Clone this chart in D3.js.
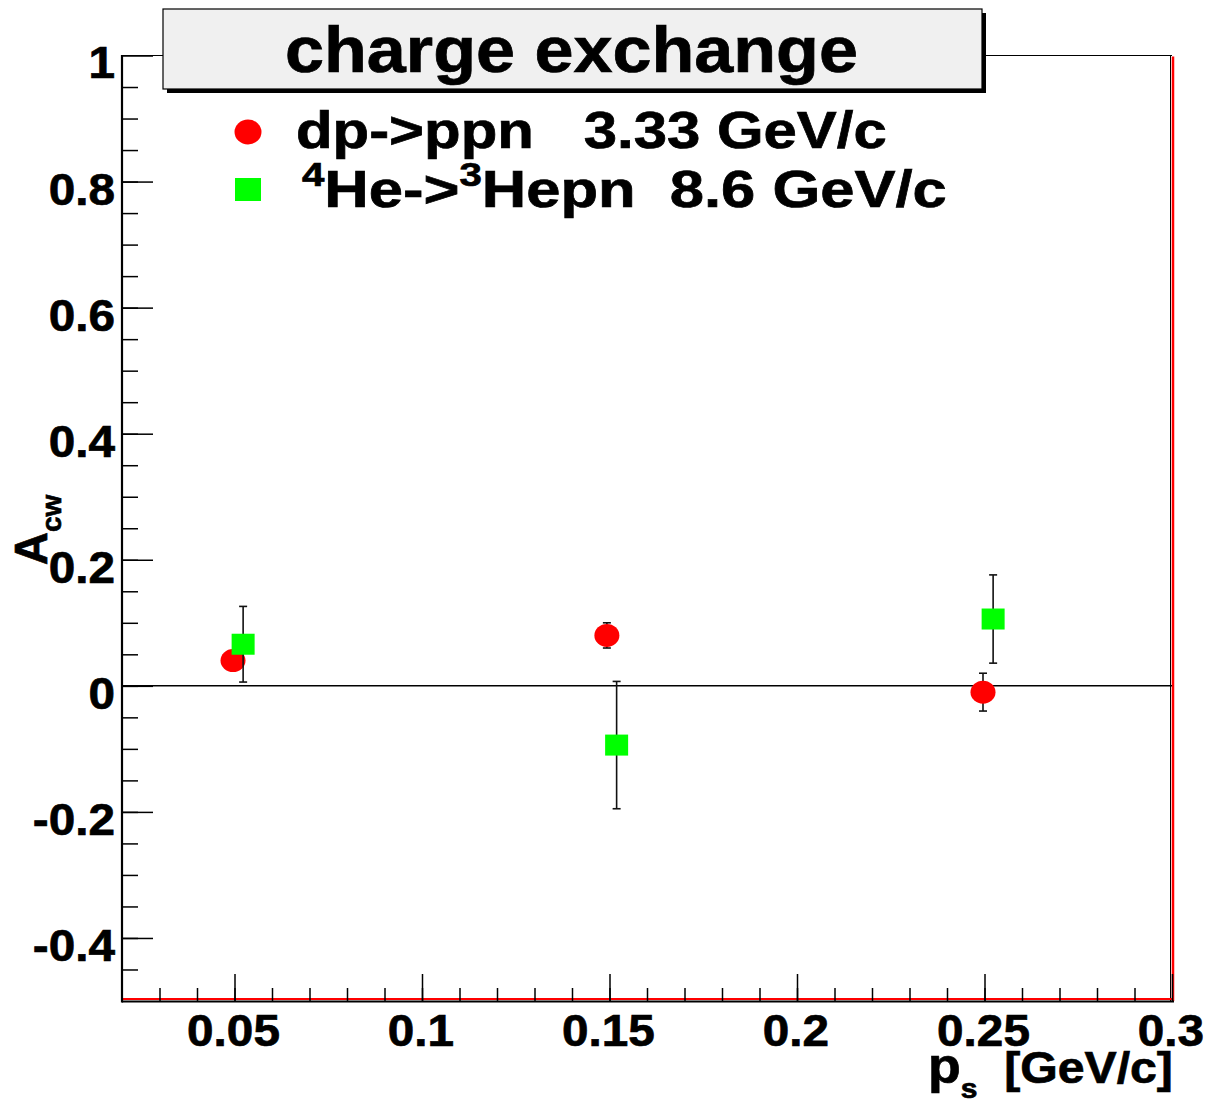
<!DOCTYPE html>
<html>
<head>
<meta charset="utf-8">
<script src="https://cdn.jsdelivr.net/npm/d3@7"></script>
<style>
  html, body { margin: 0; padding: 0; background: #fff; }
  svg { display: block; }
  text { font-family: "Liberation Sans", Arial, Helvetica, sans-serif; font-weight: bold; fill: #000;
         stroke: #000; stroke-width: 0.7px; white-space: pre; }
</style>
</head>
<body>
<script>
// Charge-exchange analysing power A_cw versus spectator momentum p_s
const dpX   = [0.0496, 0.1493, 0.2496];   // dp->ppn, 3.33 GeV/c
const dpY   = [0.040, 0.080, -0.010];
const dpErr = [0.012, 0.020, 0.030];

const heX   = [0.0523, 0.1519, 0.2523];   // 4He->3Hepn, 8.6 GeV/c
const heY   = [0.066, -0.094, 0.106];
const heErr = [0.060, 0.101, 0.070];

const xMajorTicks = [0.05, 0.1, 0.15, 0.2, 0.25, 0.3];
const xTickLabels = ["0.05", "0.1", "0.15", "0.2", "0.25", "0.3"];
const yMajorTicks = [-0.4, -0.2, 0, 0.2, 0.4, 0.6, 0.8, 1];
const yTickLabels = ["-0.4", "-0.2", "0", "0.2", "0.4", "0.6", "0.8", "1"];

const titleText = "charge exchange";

const W = 1211, H = 1105;
const padL = 122, padR = 1172, padT = 55.5, padB = 1001;

const svg = d3.select("body").append("svg").attr("width", W).attr("height", H);

const x = d3.scaleLinear().domain([0.02, 0.3]).range([padL, padR]);
const y = d3.scaleLinear().domain([-0.5, 1]).range([padB, padT]);

// stretch a text element horizontally so it spans [x0, x0+width]
function fitWidth(sel, x0, width) {
  const bb = sel.node().getBBox();
  const k = width / bb.width;
  sel.attr("transform", `translate(${x0},0) scale(${k},1) translate(${-bb.x},0)`);
}
// widen a text element by factor k about its anchor point ax
function widen(sel, ax, k) {
  sel.attr("transform", `translate(${ax},0) scale(${k},1) translate(${-ax},0)`);
}

// ---- frame ----
const frame = svg.append("g");
frame.append("line").attr("x1", padL).attr("x2", padR).attr("y1", padT).attr("y2", padT)
  .attr("stroke", "#000").attr("stroke-width", 1.2);
frame.append("line").attr("x1", padR - 1.5).attr("x2", padR - 1.5).attr("y1", padT).attr("y2", padB)
  .attr("stroke", "#000").attr("stroke-width", 1);
frame.append("line").attr("x1", padR + 1).attr("x2", padR + 1).attr("y1", padT + 1).attr("y2", padB)
  .attr("stroke", "#ff0000").attr("stroke-width", 2.5);
frame.append("line").attr("x1", padL).attr("x2", padR + 2).attr("y1", padB - 2).attr("y2", padB - 2)
  .attr("stroke", "#ff0000").attr("stroke-width", 2);

// ---- y axis ----
const yAxisMinor = d3.axisRight(y).tickValues(d3.range(-0.45, 0.96, 0.05).map(v => +v.toFixed(2)))
  .tickSize(16).tickFormat("");
const gyMinor = svg.append("g").attr("transform", `translate(${padL},0)`).call(yAxisMinor);
const yAxisMajor = d3.axisRight(y).tickValues(yMajorTicks).tickSize(31).tickFormat("");
const gyMajor = svg.append("g").attr("transform", `translate(${padL},0)`).call(yAxisMajor);
[gyMinor, gyMajor].forEach(g => {
  g.select(".domain").remove();
  g.selectAll(".tick line").attr("stroke", "#000").attr("stroke-width", 1.5);
});
svg.append("line").attr("x1", padL).attr("x2", padL).attr("y1", padT - 0.5).attr("y2", padB + 1.5)
  .attr("stroke", "#000").attr("stroke-width", 2.2);

yMajorTicks.forEach((v, i) => {
  const t = svg.append("text").attr("x", 115).attr("y", y(v) + 23)
    .attr("text-anchor", "end").style("font-size", "45px").text(yTickLabels[i]);
  widen(t, 115, 1.06);
});

// ---- x axis ----
const xAxisMinor = d3.axisTop(x).tickValues(d3.range(0.03, 0.295, 0.01).map(v => +v.toFixed(2)))
  .tickSize(13).tickFormat("");
const gxMinor = svg.append("g").attr("transform", `translate(0,${padB})`).call(xAxisMinor);
const xAxisMajor = d3.axisTop(x).tickValues(xMajorTicks).tickSize(27).tickFormat("");
const gxMajor = svg.append("g").attr("transform", `translate(0,${padB})`).call(xAxisMajor);
[gxMinor, gxMajor].forEach(g => {
  g.select(".domain").remove();
  g.selectAll(".tick line").attr("stroke", "#000").attr("stroke-width", 1.5);
});
svg.append("line").attr("x1", padL).attr("x2", padR + 2).attr("y1", padB + 0.5).attr("y2", padB + 0.5)
  .attr("stroke", "#000").attr("stroke-width", 2);

xMajorTicks.forEach((v, i) => {
  const t = svg.append("text").attr("x", x(v) - 1).attr("y", 1046)
    .attr("text-anchor", "middle").style("font-size", "45px").text(xTickLabels[i]);
  widen(t, x(v) - 1, 1.06);
});

// ---- axis titles ----
const yTitle = svg.append("text")
  .attr("transform", `translate(47,530) rotate(-90)`)
  .attr("text-anchor", "middle");
yTitle.append("tspan").style("font-size", "46px").text("A");
yTitle.append("tspan").style("font-size", "28px").attr("dy", 14).text("cw");

const xTitle = svg.append("text").attr("x", 928).attr("y", 1083);
xTitle.append("tspan").style("font-size", "50px").text("p");
xTitle.append("tspan").style("font-size", "28px").attr("dy", 15).text("s");
xTitle.append("tspan").style("font-size", "45px").attr("dy", -15).text("  [GeV/c]");
fitWidth(xTitle, 928, 245);

// ---- zero line ----
svg.append("line").attr("x1", x(0.02)).attr("x2", x(0.3)).attr("y1", y(0)).attr("y2", y(0))
  .attr("stroke", "#000").attr("stroke-width", 1.5);

// ---- data: error bars + markers ----
function errorBars(xs, ys, es) {
  const g = svg.append("g").attr("stroke", "#111").attr("stroke-width", 1.6);
  xs.forEach((xv, i) => {
    const cx = x(xv), y1 = y(ys[i] + es[i]), y2 = y(ys[i] - es[i]);
    g.append("line").attr("x1", cx).attr("x2", cx).attr("y1", y1).attr("y2", y2);
    g.append("line").attr("x1", cx - 4).attr("x2", cx + 4).attr("y1", y1).attr("y2", y1);
    g.append("line").attr("x1", cx - 4).attr("x2", cx + 4).attr("y1", y2).attr("y2", y2);
  });
}

errorBars(dpX, dpY, dpErr);
svg.append("g").selectAll("ellipse").data(dpX).join("ellipse")
  .attr("cx", d => x(d)).attr("cy", (d, i) => y(dpY[i]))
  .attr("rx", 12.5).attr("ry", 11.5).attr("fill", "#ff0000");

errorBars(heX, heY, heErr);
svg.append("g").selectAll("rect").data(heX).join("rect")
  .attr("x", d => x(d) - 11.5).attr("y", (d, i) => y(heY[i]) - 10.5)
  .attr("width", 23).attr("height", 21).attr("fill", "#00ff00");

// ---- legend ----
svg.append("ellipse").attr("cx", 248).attr("cy", 132).attr("rx", 13.5).attr("ry", 12.5).attr("fill", "#ff0000");
svg.append("rect").attr("x", 235).attr("y", 178).attr("width", 26).attr("height", 23).attr("fill", "#00ff00");

const leg1 = svg.append("text").attr("x", 296).attr("y", 148).style("font-size", "52px")
  .text("dp->ppn   3.33 GeV/c");
fitWidth(leg1, 296, 591);

const leg2 = svg.append("text").attr("x", 302).attr("y", 207).style("font-size", "52px");
leg2.append("tspan").style("font-size", "34px").attr("dy", -21).text("4");
leg2.append("tspan").attr("dy", 21).text("He->");
leg2.append("tspan").style("font-size", "34px").attr("dy", -21).text("3");
leg2.append("tspan").attr("dy", 21).text("Hepn  8.6 GeV/c");
fitWidth(leg2, 302, 645);

// ---- title box ----
svg.append("rect").attr("x", 167).attr("y", 13).attr("width", 819).attr("height", 80).attr("fill", "#000");
svg.append("rect").attr("x", 163).attr("y", 9).attr("width", 819).attr("height", 80)
  .attr("fill", "#f0f0f0").attr("stroke", "#000").attr("stroke-width", 1.2);
const title = svg.append("text").attr("x", 572).attr("y", 72).attr("text-anchor", "middle")
  .style("font-size", "64px").text(titleText);
fitWidth(title, 285, 573);
</script>
</body>
</html>
